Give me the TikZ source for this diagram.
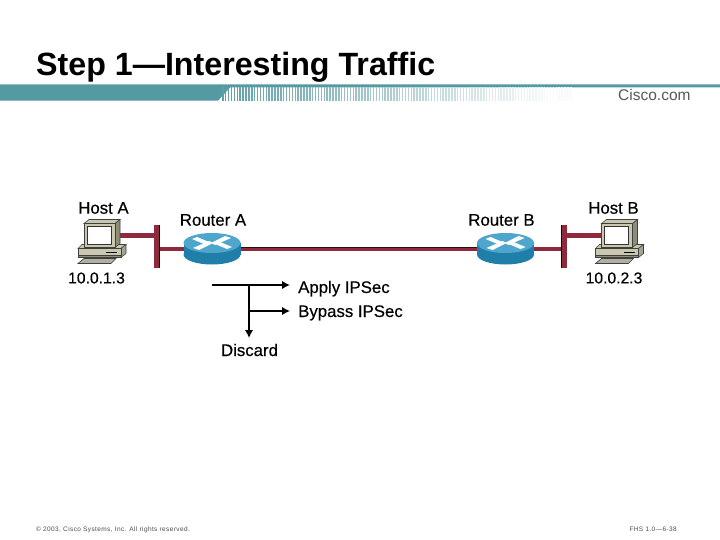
\documentclass[tikz,border=0pt]{standalone}
\usepackage{fontspec}
\setmainfont{Liberation Sans}
\newfontfamily\lblfont[FakeBold=0.35]{Liberation Sans}
\newfontfamily\footfont[LetterSpace=6]{Liberation Sans}
\usetikzlibrary{arrows.meta,calc}
\definecolor{teal1}{HTML}{559AA3}
\definecolor{linkred}{HTML}{8E2A3C}
\definecolor{beige}{HTML}{C9C7AE}
\definecolor{beigedk}{HTML}{8F8D78}
\definecolor{rblue}{HTML}{1F7FA8}
\definecolor{rblue2}{HTML}{4FA6CC}
\tikzset{
  lbl/.style={font=\lblfont\fontsize{16.8}{18}\selectfont,inner sep=0pt,text=black},
  iplbl/.style={font=\lblfont\fontsize{15.7}{18}\selectfont,inner sep=0pt,text=black},
  link/.style={draw=linkred,line width=4.2pt},
  flow/.style={draw=black,line width=2.4pt,-{Latex[length=8pt,width=8.5pt]}},
  anchorbox/.style={inner sep=0pt,minimum width=#1,minimum height=28pt},
  case/.style={draw=black!75,line width=0.6pt,fill=beige},
  foot/.style={font=\footfont\fontsize{6.5}{8}\selectfont,inner sep=0pt,text=black!70},
}
\newcommand{\hosticon}[2]{%
\begin{scope}[shift={(#1,#2)}]
  % base (origin at top-left of monitor face)
  \draw[case,fill=beigedk] (-6,25) -- (37,25) -- (37,34) -- (-6,34) -- cycle;
  \draw[case,fill=beige] (-6,25) -- (-2,21) -- (42,21) -- (37,25) -- cycle;
  \draw[case,fill=beigedk!80] (37,25) -- (42,21) -- (42,30) -- (37,34) -- cycle;
  \draw[case] (-6,25) rectangle (37,32);
  \draw[black,line width=.7pt] (22,28.5) -- (33,28.5);
  % keyboard
  \draw[case,fill=beigedk!70] (-6,40) -- (0,35) -- (32,35) -- (27,40) -- cycle;
  % monitor
  \draw[case] (0,0) -- (5,-4) -- (36,-4) -- (31,0) -- cycle;
  \draw[case,fill=beigedk] (31,0) -- (36,-4) -- (36,20) -- (31,24) -- cycle;
  \draw[case] (0,0) rectangle (31,24);
  \draw[black!80,line width=.7pt,fill=white] (3,3) rectangle (27,21);
\end{scope}}
\newcommand{\routericon}[2]{%
\begin{scope}[shift={(#1,#2)}]
  \fill[rblue] (0,5.5) ellipse[x radius=28.5,y radius=10];
  \fill[rblue] (-28.5,-6) rectangle (28.5,5.5);
  \fill[rblue2] (0,-6) ellipse[x radius=28.5,y radius=10];
  \fill[white] (-15,-12) -- (-3,-7) -- (-8,-5) -- (-20,-10) -- cycle;
  \fill[white] (15,0) -- (3,-5) -- (8,-7) -- (20,-2) -- cycle;
  \fill[white] (13,-13) -- (-1,-6) -- (3,-4) -- (19,-11) -- cycle;
  \fill[white] (-13,1) -- (1,-6) -- (-3,-8) -- (-19,-1) -- cycle;
\end{scope}}
\begin{document}
\begin{tikzpicture}[x=1pt,y=-1pt]
\useasboundingbox (0,0) rectangle (720,540);
\fill[white] (0,0) rectangle (720,540);
% title band
\fill[teal1] (0,84.3) -- (720,84.3) -- (720,87.5) -- (230,87.5) -- (218,100.7) -- (0,100.7) -- cycle;
\foreach \i in {0,...,120}{
  \pgfmathsetmacro{\xx}{222+\i*2.9}
  \pgfmathsetmacro{\pc}{max(4,95-\i*0.8)}
  \fill[teal1!\pc!white] (\xx,87.5) rectangle ++(1.5,13.2);
}
\node[font=\bfseries\fontsize{32.2}{36}\selectfont,anchor=base west,inner sep=0pt] (title) at (36,76) {Step 1—Interesting Traffic};
\node[font=\fontsize{15.5}{16}\selectfont,text=black!65,anchor=base west,inner sep=0pt] (cisco) at (618,101) {Cisco.com};
% anchors
\node[anchorbox=57pt] (ra) at (212,249) {};
\node[anchorbox=57pt] (rb) at (505.5,249) {};
\node[inner sep=0pt,minimum width=5.5pt,minimum height=43pt] (ba) at (156.8,246.5) {};
\node[inner sep=0pt,minimum width=5.5pt,minimum height=43pt] (bb) at (564.5,246.5) {};
\node[inner sep=0pt,minimum width=31pt,minimum height=24pt] (ha) at (99.5,235.5) {};
\node[inner sep=0pt,minimum width=31pt,minimum height=24pt] (hb) at (617,235.5) {};
% links
\draw[link] (ha.center) -- (ha.center -| ba.center);
\draw[link] (ba.center |- ra.center) -- (ra.center);
\draw[link] (ra.center) -- (rb.center);
\draw[black,line width=.6pt,opacity=.7] ($(ra.east)+(0,-2.2)$) -- ($(rb.west)+(0,-2.2)$);
\draw[link] (rb.center) -- (bb.center |- rb.center);
\draw[link] (bb.center |- hb.center) -- (hb.center);
% bars
\fill[linkred] (ba.south west) rectangle (ba.north east);
\draw[black,line width=1pt] (ba.north east) -- (ba.south east);
\fill[linkred] (bb.south west) rectangle (bb.north east);
\draw[black,line width=1pt] (bb.north west) -- (bb.south west);
% icons
\hosticon{84}{223.5}
\hosticon{601.5}{223.5}
\routericon{212}{249}
\routericon{505.5}{249}
% labels
\node[lbl] (lha) at (103.5,208) {Host A};
\node[lbl] (lra) at (213,220) {Router A};
\node[lbl] (lrb) at (501.5,220) {Router B};
\node[lbl] (lhb) at (613.5,208) {Host B};
\node[iplbl] (ipa) at (96.5,278) {10.0.1.3};
\node[iplbl] (ipb) at (614,278) {10.0.2.3};
% flow
\node[lbl,anchor=base west] (apply) at (298,293) {Apply IPSec};
\node[lbl,anchor=base west] (bypass) at (298,317) {Bypass IPSec};
\node[lbl] (discard) at (249.5,350) {Discard};
\coordinate (fs) at (212,285);
\coordinate (fj) at (249,285);
\coordinate (fa) at (290,285);
\coordinate (fb) at (290,311);
\coordinate (fd) at (249,338);
\draw[flow] (fs) -- (fa);
\draw[flow] (fj) -- (fd);
\draw[flow] (fj |- fb) -- (fb);
% footer
\node[foot,anchor=west] (copy) at (36,529.5) {© 2003, Cisco Systems, Inc. All rights reserved.};
\node[foot,anchor=east] (page) at (677,529.5) {FHS 1.0—6-38};
\end{tikzpicture}
\end{document}
